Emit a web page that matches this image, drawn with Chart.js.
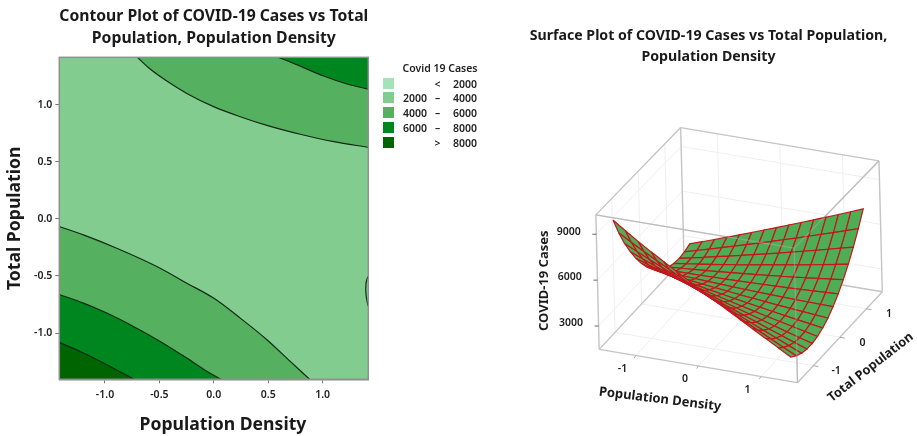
<!DOCTYPE html>
<html><head><meta charset="utf-8">
<script src="https://cdn.jsdelivr.net/npm/chart.js@4"></script>
<style>
html,body{margin:0;padding:0;background:#fff;width:917px;height:436px;overflow:hidden}
canvas{position:absolute;top:0}
#legend{position:absolute;left:0;top:0;font:600 10.5px "Noto Sans",sans-serif;color:#222}
#legend div{position:absolute;white-space:pre}
</style></head><body>
<canvas id="contour" width="428" height="436" style="left:0"></canvas>
<canvas id="surface" width="417" height="436" style="left:500px"></canvas>
<div id="legend"></div>
<script>
// ---------- contour plot data (Population Density, Total Population) ----------
const contourTitle = ['Contour Plot of COVID-19 Cases vs Total', 'Population, Population Density'];
const contourTicks = [-1.0, -0.5, 0.0, 0.5, 1.0];
const lower4000 = [[-1.42,-0.067],[-1.198,-0.14],[-0.892,-0.257],[-0.524,-0.417],[-0.248,-0.563],[-0.002,-0.694],[0.243,-0.869],[0.488,-1.058],[0.703,-1.248],[0.887,-1.41]];
const lower6000 = [[-1.42,-0.662],[-1.198,-0.738],[-0.984,-0.825],[-0.739,-0.942],[-0.493,-1.073],[-0.248,-1.219],[-0.064,-1.335],[0.074,-1.41]];
const lower8000 = [[-1.42,-1.082],[-1.198,-1.175],[-0.984,-1.277],[-0.723,-1.41]];
const upper4000 = [[-0.702,1.415],[-0.585,1.312],[-0.432,1.207],[-0.248,1.099],[-0.002,0.983],[0.243,0.895],[0.488,0.819],[0.795,0.741],[1.103,0.676],[1.42,0.627]];
const upper6000 = [[0.596,1.415],[0.795,1.338],[1.01,1.251],[1.225,1.181],[1.42,1.137]];
const minimum2000 = [[1.417,-0.504],[1.399,-0.563],[1.399,-0.665],[1.417,-0.761]];
const wholeBand = [[-1.42,1.415],[1.42,1.415]];
const bandColors = ['#a4e2b8','#82cc8f','#55b05f','#00861f','#006400'];
const legendTitle = 'Covid 19 Cases';
const legendRows = [['','<','2000'],['2000','–','4000'],['4000','–','6000'],['6000','–','8000'],['','>','8000']];

// ---------- surface plot data: one row per Total Population value ----------
const surfaceTitle = ['Surface Plot of COVID-19 Cases vs Total Population,', 'Population Density'];
const densityGrid = [-1.4,-1.2,-1.0,-0.8,-0.6,-0.4,-0.2,0,0.2,0.4,0.6,0.8,1.0,1.2,1.4];
const populationGrid = [-1.4,-1.2,-1.0,-0.8,-0.6,-0.4,-0.2,0,0.2,0.4,0.6,0.8,1.0,1.2,1.4];
const casesAtM14 = [9700,9120,8560,8030,7513,7013,6516,6022,5532,5043,4559,4078,3600,3126,2653];
const casesAtM12 = [8510,8020,7544,7095,6648,6204,5765,5328,4895,4464,4036,3613,3192,2775,2360];
const casesAtM10 = [7454,7056,6660,6268,5878,5492,5110,4730,4354,3980,3610,3244,2880,2520,2162];
const casesAtM08 = [6552,6211,5872,5537,5204,4876,4551,4228,3909,3592,3280,2971,2664,2361,2060];
const casesAtM06 = [5745,5462,5180,4902,4627,4355,4088,3822,3560,3301,3045,2794,2544,2298,2055];
const casesAtM04 = [5035,4808,4584,4364,4145,3931,3720,3512,3308,3105,2907,2712,2520,2332,2145];
const casesAtM02 = [4420,4251,4084,3921,3760,3602,3449,3298,3151,3006,2864,2727,2592,2461,2332];
const casesAtP00 = [3902,3790,3680,3574,3470,3370,3274,3180,3090,3002,2918,2838,2760,2686,2614];
const casesAtP02 = [3480,3425,3372,3323,3276,3234,3195,3158,3125,3094,3068,3045,3024,3007,2992];
const casesAtP04 = [3153,3156,3160,3168,3179,3193,3212,3232,3256,3283,3313,3348,3384,3424,3467];
const casesAtP06 = [2923,2982,3044,3110,3177,3249,3324,3402,3484,3567,3655,3746,3840,3938,4037];
const casesAtP08 = [2788,2905,3024,3147,3272,3400,3533,3668,3807,3948,4092,4241,4392,4547,4704];
const casesAtP10 = [2750,2924,3100,3280,3462,3648,3838,4030,4226,4424,4626,4832,5040,5252,5466];
const casesAtP12 = [2808,3039,3272,3509,3748,3992,4239,4488,4741,4996,5256,5519,5784,6053,6324];
const casesAtP14 = [2961,3250,3540,3834,4131,4431,4736,5042,5352,5665,5981,6302,6624,6950,7279];
const caseRows = [casesAtM14,casesAtM12,casesAtM10,casesAtM08,casesAtM06,casesAtM04,casesAtM02,casesAtP00,casesAtP02,casesAtP04,casesAtP06,casesAtP08,casesAtP10,casesAtP12,casesAtP14];
const densityTicks = [-1,0,1];
const populationTicks = [-1,0,1];
const caseTicks = [3000,6000,9000];
const boxDensity = [-1.585,1.585];
const boxPopulation = [-1.6,1.6];
const boxCases = [1473,10265];

// ---------- left chart ----------
const tickFont = {family:'"Noto Sans",sans-serif',size:10.5,weight:'600'};
const toPts = a => a.map(p => ({x:p[0],y:p[1]}));
const band = (label,pts,color,fill,line=true) => ({label,data:toPts(pts),showLine:true,pointRadius:0,
  borderColor:line?'#0f2a14':'transparent',borderWidth:line?1.2:0,backgroundColor:color,fill,cubicInterpolationMode:'monotone'});
new Chart(document.getElementById('contour'),{
  type:'scatter',
  data:{datasets:[
    band('> 8000',lower8000,bandColors[4],'start'),
    band('6000 – 8000',lower6000,bandColors[3],'start'),
    band('4000 – 6000',lower4000,bandColors[2],'start'),
    band('6000 – 8000',upper6000,bandColors[3],'end'),
    band('4000 – 6000',upper4000,bandColors[2],'end'),
    {...band('< 2000',minimum2000,bandColors[0],false),cubicInterpolationMode:'default',tension:0.3},
    band('2000 – 4000',wholeBand,bandColors[1],'start',false)
  ]},
  options:{responsive:false,animation:false,
    layout:{padding:{right:59.7,left:0,top:0,bottom:0}},
    plugins:{legend:{display:false},tooltip:{enabled:false},
      title:{display:true,fullSize:false,text:contourTitle,color:'#1a1a1a',align:'center',
        font:{family:'"Noto Sans",sans-serif',size:15.8,weight:'700',lineHeight:1.39},
        padding:{top:6,bottom:7.4}}},
    scales:{
      x:{type:'linear',min:-1.42,max:1.42,
        afterBuildTicks:s=>{s.ticks=contourTicks.map(v=>({value:v}))},
        afterFit:s=>{s.height=56.7},
        grid:{drawOnChartArea:false,drawTicks:true,tickLength:4,color:'#777'},
        border:{color:'#909090',width:1.5},
        ticks:{font:tickFont,color:'#222',padding:5,maxRotation:0,callback:v=>Number(v).toFixed(1)},
        title:{display:true,text:'    Population Density',color:'#1a1a1a',
          font:{family:'"Noto Sans",sans-serif',size:17.6,weight:'700',lineHeight:1.2},padding:{top:0,bottom:0}}},
      y:{type:'linear',min:-1.405,max:1.415,
        afterBuildTicks:s=>{s.ticks=contourTicks.map(v=>({value:v}))},
        afterFit:s=>{s.width=59.3},
        grid:{drawOnChartArea:false,drawTicks:true,tickLength:4,color:'#777'},
        border:{color:'#909090',width:1.5},
        ticks:{font:tickFont,color:'#222',padding:3,callback:v=>Number(v).toFixed(1)},
        title:{display:true,text:'Total Population',color:'#1a1a1a',
          font:{family:'"Noto Sans",sans-serif',size:17.6,weight:'700',lineHeight:1.2},padding:{top:4,bottom:0}}}
    }
  },
  plugins:[{id:'frame',afterDatasetsDraw(c){const a=c.chartArea,g=c.ctx;g.save();g.strokeStyle='#909090';g.lineWidth=1.5;
    g.strokeRect(a.left,a.top,a.right-a.left,a.bottom-a.top);g.restore();}}]
});

// ---------- legend (real text beside the contour plot) ----------
const legendEl = document.getElementById('legend');
function addText(t,left,top,width,align){const d=document.createElement('div');d.textContent=t;
  d.style.cssText=`left:${left}px;top:${top}px;width:${width}px;text-align:${align};line-height:14px`;legendEl.appendChild(d);}
addText(legendTitle,395,61,90,'center');
legendRows.forEach((r,i)=>{
  const cy=83.5+i*14.8;
  const s=document.createElement('div');
  s.style.cssText=`left:383px;top:${cy-6}px;width:11px;height:11px;background:${bandColors[i]}`;legendEl.appendChild(s);
  addText(r[0],394,cy-7,33,'right');
  addText(r[1],430,cy-7,15,'center');
  addText(r[2],445,cy-7,32,'right');
});

// ---------- right chart: cases surface projected on the library's own axes ----------
const uSpan=1251, vSpan=978;
function project(d,p,c){
  const rise=(c-boxCases[0])*0.0453*(1-0.0086*p);
  return {x:722.25+187.7*d+79.5*p-0.00114*(c-boxCases[0]),
          y:631.5+31.5*d-85.3*p-rise};
}
const lineSet=(pts,color,width)=>({data:pts,showLine:true,pointRadius:0,borderColor:color,borderWidth:width,fill:false,tension:0,clip:false});
const [dA,dB]=boxDensity,[pA,pB]=boxPopulation,[cA,cB]=boxCases;
const edgeColor='#c4c4c4', wallColor='#efefef';
const behind=[], front=[];
// faint wall and floor grid lines
densityTicks.forEach(d=>{
  behind.push(lineSet([project(d,pA,cA),project(d,pB,cA)],wallColor,1));
  behind.push(lineSet([project(d,pB,cA),project(d,pB,cB)],wallColor,1));
});
populationTicks.forEach(p=>{
  behind.push(lineSet([project(dA,p,cA),project(dB,p,cA)],wallColor,1));
  behind.push(lineSet([project(dA,p,cA),project(dA,p,cB)],wallColor,1));
});
caseTicks.forEach(c=>{
  behind.push(lineSet([project(dA,pA,c),project(dA,pB,c)],wallColor,1));
  behind.push(lineSet([project(dA,pB,c),project(dB,pB,c)],wallColor,1));
});
// box edges
[[dA,pA,cA,dB,pA,cA],[dB,pA,cA,dB,pB,cA],[dB,pB,cA,dA,pB,cA],[dA,pB,cA,dA,pA,cA],
 [dA,pA,cB,dB,pA,cB],[dB,pA,cB,dB,pB,cB],[dB,pB,cB,dA,pB,cB],[dA,pB,cB,dA,pA,cB],
 [dA,pA,cA,dA,pA,cB],[dB,pA,cA,dB,pA,cB],[dB,pB,cA,dB,pB,cB],[dA,pB,cA,dA,pB,cB]]
 .forEach(e=>behind.push(lineSet([project(e[0],e[1],e[2]),project(e[3],e[4],e[5])],edgeColor,1.4)));
// tick marks
caseTicks.forEach(c=>{const a=project(dA,pA,c);behind.push(lineSet([a,{x:a.x-12,y:a.y}],'#666',1));});
densityTicks.forEach(d=>{const a=project(d,pA,cA);behind.push(lineSet([a,{x:a.x-5,y:a.y+8}],'#aaa',1));});
populationTicks.forEach(p=>{const a=project(dB,p,cA);behind.push(lineSet([a,{x:a.x+15,y:a.y+3}],'#aaa',1));});
// edges that show faintly through the surface
[[dA,pA,cB,dB,pA,cB],[dB,pA,cB,dB,pB,cB],[dB,pA,cA,dB,pA,cB]]
 .forEach(e=>front.push(lineSet([project(e[0],e[1],e[2]),project(e[3],e[4],e[5])],'rgba(180,180,180,0.45)',1.2)));
// surface cells: far ones are drawn first
const cells=[];
for(let j=populationGrid.length-2;j>=0;j--){
  for(let i=0;i<densityGrid.length-1;i++){
    const ds=lineSet([
      project(densityGrid[i],populationGrid[j],caseRows[j][i]),
      project(densityGrid[i+1],populationGrid[j],caseRows[j][i+1]),
      project(densityGrid[i+1],populationGrid[j+1],caseRows[j+1][i+1]),
      project(densityGrid[i],populationGrid[j+1],caseRows[j+1][i]),
      project(densityGrid[i],populationGrid[j],caseRows[j][i])
    ],'#c4161c',1.2);
    ds.isCell=true;
    cells.push(ds);
  }
}
// Chart.js paints the first dataset last
const surfaceSets=[...front,...cells.slice().reverse(),...behind.slice().reverse()];

const labelFont='600 10.5px "Noto Sans",sans-serif';
const boldFont='700 13px "Noto Sans",sans-serif';
new Chart(document.getElementById('surface'),{
  type:'scatter',
  data:{datasets:surfaceSets},
  options:{responsive:false,animation:false,
    layout:{padding:0},
    plugins:{legend:{display:false},tooltip:{enabled:false},
      title:{display:true,text:surfaceTitle,color:'#1a1a1a',align:'center',
        font:{family:'"Noto Sans",sans-serif',size:14.15,weight:'700',lineHeight:1.49},
        padding:{top:25,bottom:43}}},
    scales:{
      x:{type:'linear',min:0,max:uSpan,display:false},
      y:{type:'linear',min:0,max:vSpan,reverse:true,display:false}
    }
  },
  plugins:[{id:'cellFill',
    beforeDatasetDraw(c,args){
      const ds=c.data.datasets[args.index]; if(!ds.isCell) return;
      const pts=args.meta.data,g=c.ctx;
      g.save();g.beginPath();pts.forEach((p,k)=>k?g.lineTo(p.x,p.y):g.moveTo(p.x,p.y));g.closePath();
      g.fillStyle='#4fae55';g.fill();g.restore();
    },
    afterDraw(c){
      const X=c.scales.x,Y=c.scales.y,g=c.ctx;
      const put=(t,u,v,font,rot=0)=>{g.save();g.translate(X.getPixelForValue(u),Y.getPixelForValue(v));g.rotate(rot);
        g.font=font;g.fillStyle='#1c1c1c';g.textAlign='center';g.textBaseline='middle';g.fillText(t,0,0);g.restore();};
      caseTicks.forEach(v=>{const a=project(dA,pA,v);put(String(v),a.x-83,a.y-8,labelFont);});
      densityTicks.forEach(v=>{const a=project(v,pA,cA);put(String(v),a.x-40,a.y+39,labelFont);});
      populationTicks.forEach(v=>{const a=project(dB,v,cA);put(String(v),a.x+68,a.y+17,labelFont);});
      put('COVID-19 Cases',132,512,boldFont,-Math.PI/2);
      put('Population Density',480,868,boldFont,7*Math.PI/180);
      put('Total Population',1112,772,'700 12.8px "Noto Sans",sans-serif',-38*Math.PI/180);
    }
  }]
});
</script>
</body></html>
